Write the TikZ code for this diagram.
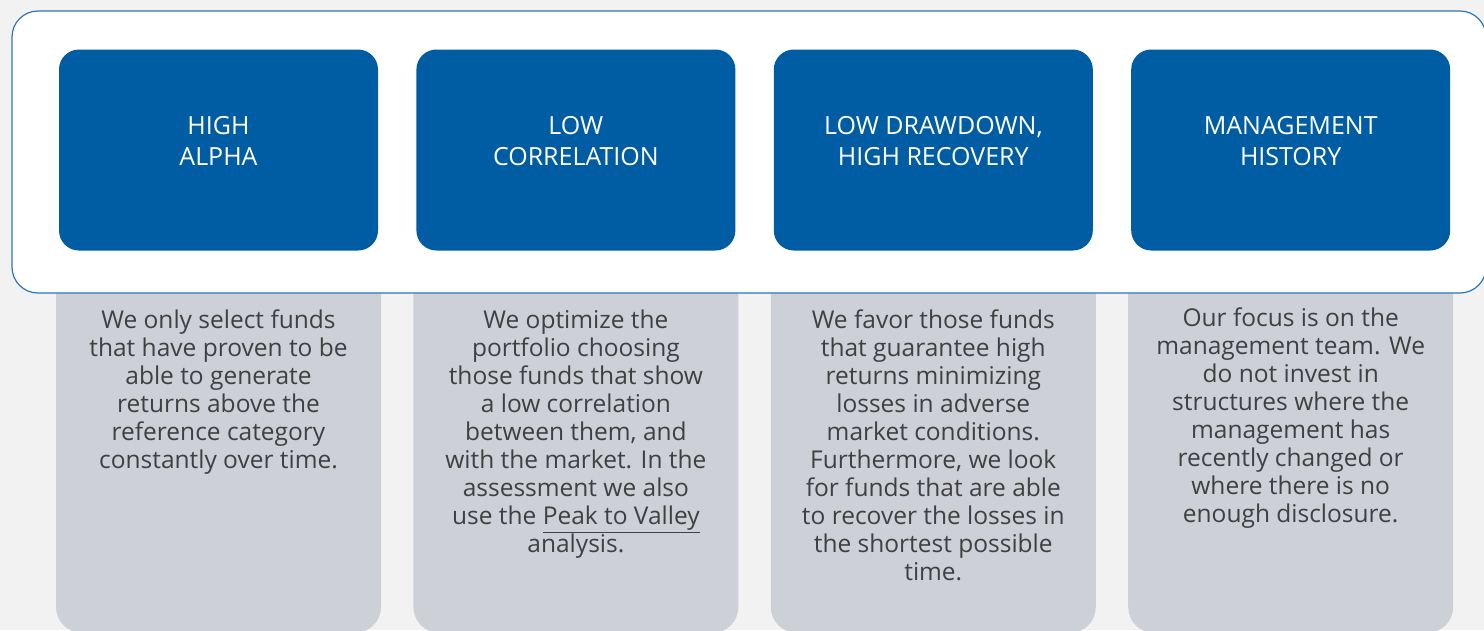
\documentclass[tikz,border=0pt]{standalone}
\usepackage{fontspec}
\setmainfont{Open Sans}
\usetikzlibrary{positioning}
\definecolor{critblue}{RGB}{0,93,163}
\definecolor{panelgray}{RGB}{205,208,215}
\definecolor{pagegray}{RGB}{242,242,242}
\definecolor{bodyink}{RGB}{64,64,64}
\definecolor{frameline}{RGB}{46,117,182}
\tikzset{%
	crit/.style      = {fill=critblue, rounded corners=20pt, minimum width=319pt, minimum height=201pt, inner sep=0pt}, % blue criterion box
	crittext/.style  = {text=white, align=center, inner sep=0pt, font=\fontsize{25}{31}\selectfont}, % criterion title
	panel/.style     = {fill=panelgray, rounded corners=26pt, minimum width=325pt, minimum height=433pt, inner sep=0pt}, % gray panel
	paneltext/.style = {text=bodyink, align=center, inner sep=0pt, font=\fontsize{24.5}{28}\selectfont}, % panel text
	frame/.style     = {draw=frameline, line width=1.2pt, fill=white, rounded corners=26pt}, % white frame
}
\begin{document}
\begin{tikzpicture}[x=1pt,y=-1pt]
		\useasboundingbox (0,0) rectangle (1484,630);
		\fill[pagegray] (0,0) rectangle (1484,630);
		\clip (0,0) rectangle (1484,630);
		% gray panels behind the frame
		\node[panel] (alphapanel) at (218.5,416.5) {};
		\node[panel, right=32pt of alphapanel] (corrpanel) {};
		\node[panel, right=32pt of corrpanel] (drawpanel) {};
		\node[panel, right=32pt of drawpanel] (mgmtpanel) {};
		\draw[frame] (12,11) rectangle (1486,293);
		% criteria
		\node[crit] (alpha) at (218.5,150) {};
		\node[crit, right=38pt of alpha] (corr) {};
		\node[crit, right=38pt of corr] (draw) {};
		\node[crit, right=38pt of draw] (mgmt) {};
		\node[crittext, yshift=9pt] (alphatitle) at (alpha) {HIGH\\ALPHA};
		\node[crittext, yshift=9pt] (corrtitle) at (corr) {LOW\\CORRELATION};
		\node[crittext, yshift=9pt] (drawtitle) at (draw) {LOW DRAWDOWN,\\HIGH RECOVERY};
		\node[crittext, yshift=9pt] (mgmttitle) at (mgmt) {MANAGEMENT\\HISTORY};
		% descriptions
		\node[paneltext, below=59pt of alpha] (alphatxt) {We only select funds\\that have proven to be\\able to generate\\returns above the\\reference category\\constantly over time.};
		\node[paneltext, below=59pt of corr] (corrtxt) {We optimize the\\portfolio choosing\\those funds that show\\a low correlation\\between them, and\\with the market. In the\\assessment we also\\use the \underline{Peak to Valley}\\analysis.};
		\node[paneltext, below=59pt of draw] (drawtxt) {We favor those funds\\that guarantee high\\returns minimizing\\losses in adverse\\market conditions.\\Furthermore, we look\\for funds that are able\\to recover the losses in\\the shortest possible\\time.};
		\node[paneltext, below=57pt of mgmt] (mgmttxt) {Our focus is on the\\management team. We\\do not invest in\\structures where the\\management has\\recently changed or\\where there is no\\enough disclosure.};
\end{tikzpicture}
\end{document}
